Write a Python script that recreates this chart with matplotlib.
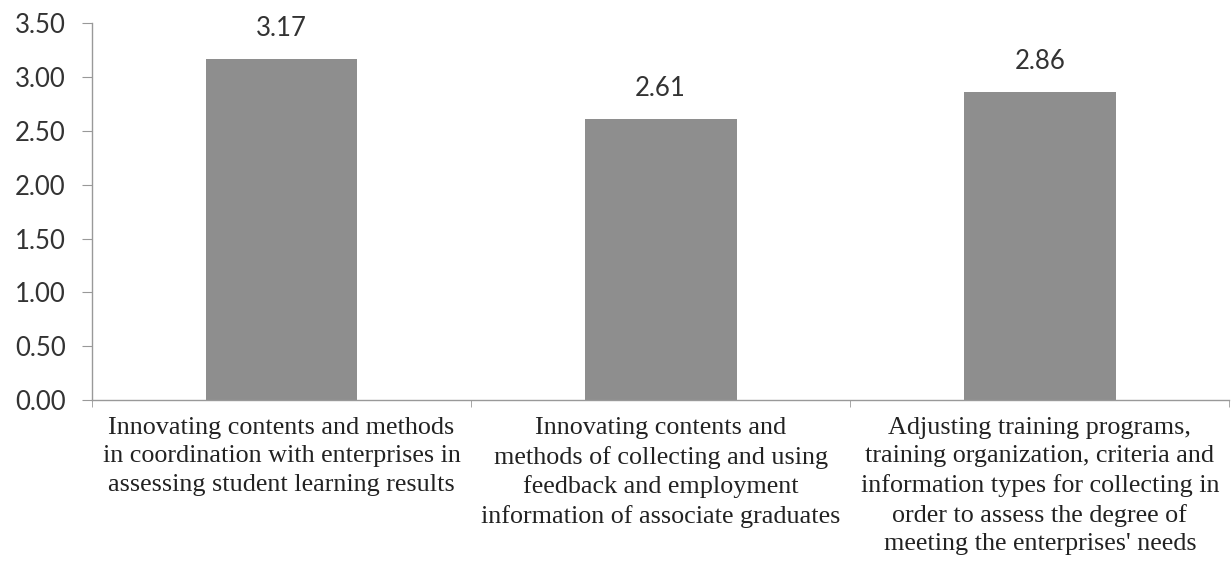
import numpy as np
import matplotlib.pyplot as plt

categories = [
    'Innovating contents and methods\nin coordination with enterprises in\nassessing student learning results',
    'Innovating contents and\nmethods of collecting and using\nfeedback and employment\ninformation of associate graduates',
    "Adjusting training programs,\ntraining organization, criteria and\ninformation types for collecting in\norder to assess the degree of\nmeeting the enterprises' needs",
]
values = [3.17, 2.61, 2.86]
y_ticks = [0.0, 0.5, 1.0, 1.5, 2.0, 2.5, 3.0, 3.5]

fig = plt.figure(figsize=(12.31, 5.67), dpi=100)
ax = fig.add_axes([0.0747, 0.2945, 0.924, 0.6645])

x = np.arange(len(categories))
ax.bar(x, values, width=0.4, color='#8e8e8e')
for xi, v in zip(x, values):
    ax.annotate('%.2f' % v, (xi, v), xytext=(0, 13), textcoords='offset points',
                ha='center', va='bottom', fontsize=18.5, family='Lato', color='#333333')

ax.set_xlim(-0.5, len(categories) - 0.5)
ax.set_ylim(0, 3.5)
ax.set_yticks(y_ticks)
ax.set_yticklabels(['%.2f' % t for t in y_ticks], fontsize=18.5, family='Lato', color='#333333')

ax.set_xticks(x)
ax.set_xticklabels(categories, fontsize=18.8, family='Liberation Serif', color='#222222',
                   linespacing=1.38, va='top')
ax.set_xticks(np.arange(len(categories) + 1) - 0.5, minor=True)
ax.tick_params(axis='x', which='major', length=0, pad=12)
ax.tick_params(axis='x', which='minor', length=5, color='#999999')
ax.tick_params(axis='y', length=7, color='#999999', pad=12)

for s in ['top', 'right']:
    ax.spines[s].set_visible(False)
for s in ['left', 'bottom']:
    ax.spines[s].set_color('#999999')
    ax.spines[s].set_linewidth(1.0)

fig.savefig('out.png', dpi=100)
